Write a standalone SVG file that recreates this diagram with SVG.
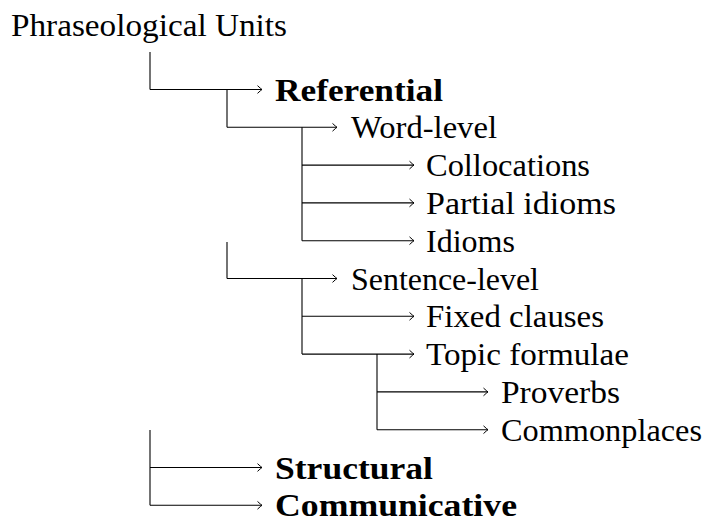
<svg xmlns="http://www.w3.org/2000/svg" width="708" height="519" viewBox="0 0 708 519">
<defs>
<marker id="arr" markerUnits="userSpaceOnUse" markerWidth="12" markerHeight="12" viewBox="-6 -6 12 12" refX="0" refY="0" orient="auto" overflow="visible">
<path d="M-4.2,-3.6 Q-1.2,-0.8 0,0 Q-1.2,0.8 -4.2,3.6" fill="none" stroke="#000" stroke-width="1" stroke-linecap="round"/>
</marker>
</defs>
<style>
.t text{font-size:31px;fill:#000}
.b{font-weight:bold}
.c line,.c path{stroke:#000;stroke-width:1.1;fill:none}
.c .a{marker-end:url(#arr)}
</style>
<rect width="708" height="519" fill="#fff"/>
<g class="c" id="connectors">
<path d="M150,52 V89.5"/>
<line class="a" x1="150" y1="89.5" x2="262" y2="89.5"/>
<path d="M227,89.5 V127.3"/>
<line class="a" x1="227" y1="127.3" x2="337" y2="127.3"/>
<path d="M302,127.3 V240.7"/>
<line class="a" x1="302" y1="165.1" x2="414" y2="165.1"/>
<line class="a" x1="302" y1="202.9" x2="414" y2="202.9"/>
<line class="a" x1="302" y1="240.7" x2="414" y2="240.7"/>
<path d="M227,242 V278.5"/>
<line class="a" x1="227" y1="278.5" x2="337" y2="278.5"/>
<path d="M302,278.5 V354.1"/>
<line class="a" x1="302" y1="316.3" x2="414" y2="316.3"/>
<line class="a" x1="302" y1="354.1" x2="414" y2="354.1"/>
<path d="M377,354.1 V429.7"/>
<line class="a" x1="377" y1="391.9" x2="488" y2="391.9"/>
<line class="a" x1="377" y1="429.7" x2="488" y2="429.7"/>
<path d="M150,430 V505.3"/>
<line class="a" x1="150" y1="467.5" x2="262" y2="467.5"/>
<line class="a" x1="150" y1="505.3" x2="262" y2="505.3"/>
</g>
<g class="t" font-family="'Liberation Serif', 'DejaVu Serif', serif">
<g id="n-root"><text x="11" y="36" textLength="276" lengthAdjust="spacingAndGlyphs">Phraseological Units</text></g>
<g id="n-referential"><text class="b" x="275" y="100.5" textLength="168" lengthAdjust="spacingAndGlyphs">Referential</text></g>
<g id="n-wordlevel"><text x="351" y="138.3" textLength="146" lengthAdjust="spacingAndGlyphs">Word-level</text></g>
<g id="n-collocations"><text x="426" y="176.1" textLength="164" lengthAdjust="spacingAndGlyphs">Collocations</text></g>
<g id="n-partial"><text x="426" y="213.9" textLength="190" lengthAdjust="spacingAndGlyphs">Partial idioms</text></g>
<g id="n-idioms"><text x="426" y="251.7" textLength="89" lengthAdjust="spacingAndGlyphs">Idioms</text></g>
<g id="n-sentencelevel"><text x="351" y="289.5" textLength="188" lengthAdjust="spacingAndGlyphs">Sentence-level</text></g>
<g id="n-fixed"><text x="426" y="327.3" textLength="178" lengthAdjust="spacingAndGlyphs">Fixed clauses</text></g>
<g id="n-topic"><text x="426" y="365.1" textLength="203" lengthAdjust="spacingAndGlyphs">Topic formulae</text></g>
<g id="n-proverbs"><text x="501" y="402.9" textLength="119" lengthAdjust="spacingAndGlyphs">Proverbs</text></g>
<g id="n-commonplaces"><text x="501" y="440.7" textLength="201" lengthAdjust="spacingAndGlyphs">Commonplaces</text></g>
<g id="n-structural"><text class="b" x="275" y="478.5" textLength="158" lengthAdjust="spacingAndGlyphs">Structural</text></g>
<g id="n-communicative"><text class="b" x="275" y="515.8" textLength="242" lengthAdjust="spacingAndGlyphs">Communicative</text></g>
</g>
</svg>
